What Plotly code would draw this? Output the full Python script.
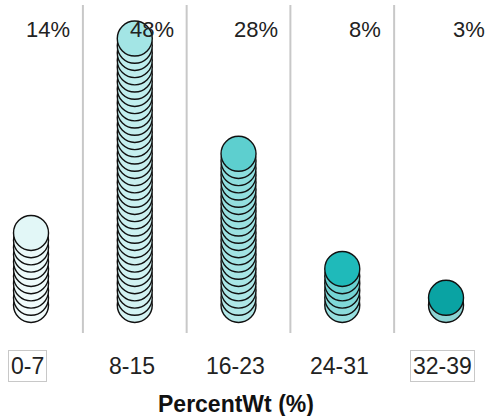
import plotly.graph_objects as go

# Weight-percent bins and share of samples in each bin
categories = ["0-7", "8-15", "16-23", "24-31", "32-39"]
percent = [14, 48, 28, 8, 3]
pct_labels = ["14%", "48%", "28%", "8%", "3%"]
boxed = ["0-7", "32-39"]

# Top-disc colour per bin (light to dark teal)
top_colors = ["#e2f7f7", "#a3e5e5", "#5dcfcf", "#1fbaba", "#0aa3a3"]

PCT_PER_DISC = 1.27  # each disc in a stack stands for this many percent


def mix_white(hex_color, t):
    h = hex_color.lstrip("#")
    r, g, b = (int(h[i:i + 2], 16) for i in (0, 2, 4))
    r = round(r + (255 - r) * t)
    g = round(g + (255 - g) * t)
    b = round(b + (255 - b) * t)
    return f"rgb({r},{g},{b})"


fig = go.Figure()

for i, (cat, val, col) in enumerate(zip(categories, percent, top_colors)):
    n = max(1, round(val / PCT_PER_DISC))
    ys = [k * PCT_PER_DISC for k in range(n)]
    fills = []
    for k in range(n):
        if k == n - 1:
            fills.append(col)
        else:
            frac = 1 - k / max(1, n - 1)
            fills.append(mix_white(col, 0.28 + 0.25 * frac))
    fig.add_trace(go.Scatter(
        x=[i] * n, y=ys, mode="markers", hoverinfo="skip", showlegend=False,
        marker=dict(symbol="circle", size=35, color=fills,
                    line=dict(color="#111111", width=1.4)),
    ))

# Percentage labels at the top right of each column
for i, txt in enumerate(pct_labels):
    fig.add_annotation(x=i + 0.395, y=0.93, xref="x", yref="paper", text=txt,
                       showarrow=False, xanchor="right", yanchor="middle",
                       font=dict(family="Liberation Sans, Arial", size=22, color="#222222"))

# Category labels below the stacks
for i, cat in enumerate(categories):
    is_boxed = cat in boxed
    fig.add_annotation(x=i - 0.03, y=0.12, xref="x", yref="paper", text=cat,
                       showarrow=False, xanchor="center", yanchor="middle",
                       font=dict(family="Liberation Sans, Arial", size=23, color="#222222"),
                       bordercolor="#c8c8c8" if is_boxed else "rgba(0,0,0,0)",
                       borderwidth=1, borderpad=2)

# Vertical separators between bins
for i in range(len(categories) - 1):
    fig.add_shape(type="line", x0=i + 0.5, x1=i + 0.5, xref="x",
                  y0=1 - 5 / 416, y1=1 - 333 / 416, yref="paper",
                  line=dict(color="#c8c8c8", width=2), layer="below")

fig.add_annotation(x=0.485, y=0.03, xref="paper", yref="paper",
                   text="<b>PercentWt (%)</b>", showarrow=False,
                   xanchor="center", yanchor="middle",
                   font=dict(family="Liberation Sans, Arial", size=23, color="#111111"))

fig.update_layout(
    width=487, height=416,
    margin=dict(l=0, r=0, t=0, b=0),
    paper_bgcolor="white", plot_bgcolor="white",
    xaxis=dict(range=[-0.299, 4.395], visible=False, fixedrange=True),
    yaxis=dict(range=[-19.58, 53.79], visible=False, fixedrange=True),
)

fig.write_html("out.html")
